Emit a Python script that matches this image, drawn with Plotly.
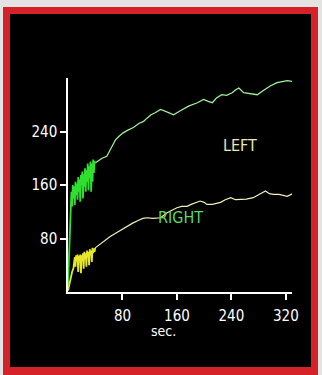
import plotly.graph_objects as go

# ---- data ----
left_noisy_sec = [0, 1, 2, 3, 4, 5, 6, 7, 8, 9, 10, 11, 12, 13, 14, 15, 16, 17, 18, 19, 20,
                  21, 22, 23, 24, 25, 26, 27, 28, 29, 30, 31, 32, 33, 34, 35, 36, 37, 38, 39, 40]
left_noisy_val = [10, 45, 75, 100, 125, 150, 128, 160, 140, 158, 130, 165, 145, 162, 138, 172, 150,
                  168, 135, 175, 160, 180, 140, 176, 158, 185, 150, 182, 165, 192, 152, 188, 170,
                  195, 150, 192, 165, 198, 178, 196, 193]

left_sec = [40, 45, 50, 57, 63, 70, 75, 81, 88, 96, 104, 111, 116, 122, 128, 136, 146, 155,
            165, 177, 190, 199, 206, 212, 218, 226, 233, 241, 246, 251, 258, 265, 278, 288,
            297, 307, 315, 322, 329]
left_val = [193, 197, 200, 203, 215, 228, 233, 238, 242, 246, 252, 255, 260, 265, 268, 273,
            269, 265, 271, 278, 283, 288, 285, 283, 290, 295, 294, 298, 302, 305, 298, 297,
            295, 302, 308, 313, 314, 316, 315]

right_noisy_sec = [0, 2, 4, 6, 8, 9, 10, 11, 12, 13, 14, 15, 16, 17, 18, 19, 20, 21, 22, 23, 24,
                   25, 26, 27, 28, 29, 30, 31, 32, 33, 34, 35, 36, 37, 38, 39, 40]
right_noisy_val = [2, 12, 22, 30, 36, 42, 52, 38, 55, 46, 56, 30, 54, 48, 56, 28, 55, 47, 58, 35,
                   60, 50, 58, 38, 62, 52, 60, 40, 64, 55, 62, 45, 66, 58, 65, 60, 66]

right_sec = [40, 45, 51, 56, 62, 70, 78, 87, 95, 103, 110, 116, 125, 136, 145, 152, 160, 167,
             175, 181, 188, 194, 200, 204, 212, 218, 224, 231, 239, 246, 253, 262, 272, 280,
             290, 296, 302, 310, 316, 322, 330]
right_val = [66, 70, 74, 78, 83, 88, 93, 98, 103, 107, 110, 111, 110, 111, 118, 122, 126, 128,
             128, 131, 134, 136, 134, 131, 131, 132, 134, 138, 141, 138, 138, 139, 141, 145,
             151, 147, 146, 146, 144, 143, 147]

x_ticks = [80, 160, 240, 320]
y_ticks = [80, 160, 240]
x_title = "sec."
label_left = "LEFT"
label_right = "RIGHT"

FONT = "Liberation Sans Narrow, Arial Narrow, DejaVu Sans Condensed, sans-serif"

W, H = 322, 375
ML, MR, MT, MB = 68, 30, 78, 83
PW, PH = W - ML - MR, H - MT - MB


def px_x(p):
    return (p - ML) / PW


def px_y(p):
    return (H - MB - p) / PH


fig = go.Figure()
fig.add_trace(go.Scatter(x=left_sec, y=left_val, mode="lines",
                         line=dict(color="#9ef09a", width=1.3), hoverinfo="skip"))
fig.add_trace(go.Scatter(x=right_sec, y=right_val, mode="lines",
                         line=dict(color="#f2f0b8", width=1.2), hoverinfo="skip"))
fig.add_trace(go.Scatter(x=left_noisy_sec, y=left_noisy_val, mode="lines",
                         line=dict(color="#2fe02f", width=1.8), hoverinfo="skip"))
fig.add_trace(go.Scatter(x=right_noisy_sec, y=right_noisy_val, mode="lines",
                         line=dict(color="#e6e62a", width=1.8), hoverinfo="skip"))

shapes = [
    dict(type="rect", xref="paper", yref="paper", layer="below",
         x0=px_x(3), x1=px_x(318), y0=px_y(376), y1=px_y(7),
         fillcolor="#d42228", line=dict(width=0)),
    dict(type="rect", xref="paper", yref="paper", layer="below",
         x0=px_x(10), x1=px_x(311), y0=px_y(367), y1=px_y(14),
         fillcolor="#000000", line=dict(width=0)),
]

annotations = [
    dict(x=252, y=219, xref="x", yref="y", text=label_left, showarrow=False,
         font=dict(family=FONT, size=16, color="#ece6b0")),
    dict(x=165, y=111, xref="x", yref="y", text=label_right, showarrow=False,
         font=dict(family=FONT, size=16, color="#5fd85f")),
    dict(x=140, y=px_y(331), xref="x", yref="paper", text=x_title, showarrow=False,
         xanchor="center", yanchor="middle",
         font=dict(family=FONT, size=14, color="#ffffff")),
]

axis_common = dict(showgrid=False, zeroline=False, showline=True, linecolor="#ffffff",
                   linewidth=1.5, ticks="outside", ticklen=6, tickcolor="#ffffff",
                   tickwidth=1.5, tickfont=dict(family=FONT, size=15, color="#ffffff"))

fig.update_layout(
    width=W, height=H,
    margin=dict(l=ML, r=MR, t=MT, b=MB, pad=0),
    paper_bgcolor="#e3e3e3",
    plot_bgcolor="rgba(0,0,0,0)",
    showlegend=False,
    shapes=shapes,
    annotations=annotations,
    xaxis=dict(range=[0, 329], tickvals=x_ticks, ticklabelstandoff=3, **axis_common),
    yaxis=dict(range=[0, 320], tickvals=y_ticks, **axis_common),
)

fig.write_html("out.html", config={"displayModeBar": False},
               post_script="document.body.style.margin='0';document.body.style.overflow='hidden';")
